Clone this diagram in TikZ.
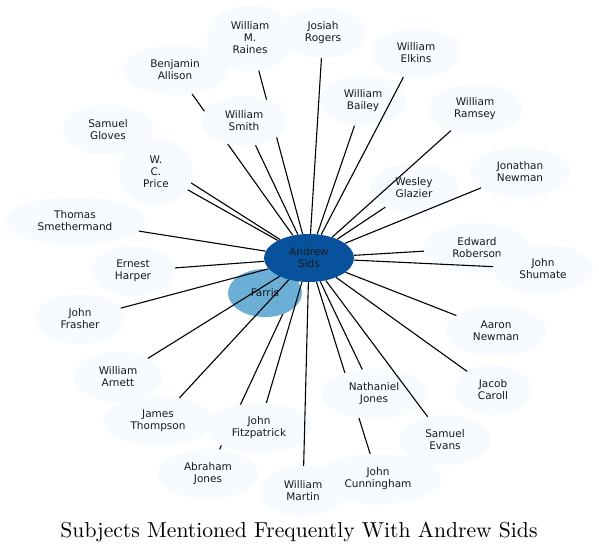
\documentclass[tikz,border=0pt]{standalone}
\usepackage{fontspec}
\newfontfamily\nodefont{DejaVu Sans}
\usetikzlibrary{shapes.geometric}
\definecolor{leaf}{HTML}{F7FBFF}
\definecolor{hub}{HTML}{08519C}
\definecolor{mid}{HTML}{6BAED6}
\tikzset{
  person/.style={ellipse, fill=leaf, inner sep=0pt, align=center,
    font=\nodefont\fontsize{10.5}{12}\selectfont, text=black!90},
  link/.style={draw=black, line width=1.1pt},
}
\newcommand{\pn}[5]{\node[person, minimum width=#3pt, minimum height=#4pt] (#1) at (#2) {#5};}
\begin{document}
\begin{tikzpicture}[x=1pt,y=-1pt]
\useasboundingbox[fill=white] (0,0) rectangle (599,552);
% coordinates of node centres
\coordinate (cgl) at (108,130);
\coordinate (cba) at (175,70);
\coordinate (cra) at (250,38);
\coordinate (ccu) at (378,479);
\coordinate (cab) at (208,474);
\coordinate (csi) at (309,258);
% hidden edges first (under other nodes)
\node[ellipse, minimum width=90pt, minimum height=48pt, inner sep=0pt] (sidsh) at (csi) {};
\node[ellipse, minimum width=90pt, minimum height=50pt, inner sep=0pt] (glh) at (cgl) {};
\node[ellipse, minimum width=104pt, minimum height=50pt, inner sep=0pt] (bah) at (cba) {};
\node[ellipse, minimum width=86pt, minimum height=66pt, inner sep=0pt] (rah) at (cra) {};
\node[ellipse, minimum width=126pt, minimum height=50pt, inner sep=0pt] (cuh) at (ccu) {};
\node[ellipse, minimum width=100pt, minimum height=50pt, inner sep=0pt] (abh) at (cab) {};
\draw[link] (sidsh) -- (glh);
\draw[link] (sidsh) -- (bah);
\draw[link] (sidsh) -- (rah);
\draw[link] (sidsh) -- (cuh);
\draw[link] (sidsh) -- (abh);
% nodes
\pn{gloves}{cgl}{90}{50}{Samuel\\Gloves}
\pn{price}{156,172}{74}{68}{W.\\C.\\Price}
\pn{allison}{cba}{104}{50}{Benjamin\\Allison}
\pn{raines}{cra}{86}{66}{William\\M.\\Raines}
\pn{smith}{244,121}{86}{50}{William\\Smith}
\pn{rogers}{323,33}{86}{50}{Josiah\\Rogers}
\pn{bailey}{363,101}{86}{50}{William\\Bailey}
\pn{elkins}{416,53}{88}{50}{William\\Elkins}
\pn{ramsey}{475,109}{94}{50}{William\\Ramsey}
\pn{glazier}{414,188}{88}{50}{Wesley\\Glazier}
\pn{jnewman}{520,172}{100}{50}{Jonathan\\Newman}
\pn{smeth}{75,221}{140}{48}{Thomas\\Smethermand}
\pn{harper}{133,271}{84}{50}{Ernest\\Harper}
\pn{frasher}{80,319}{90}{50}{John\\Frasher}
\pn{arnett}{118,377}{88}{50}{William\\Arnett}
\pn{roberson}{477,248}{106}{50}{Edward\\Roberson}
\pn{shumate}{543,269}{100}{50}{John\\Shumate}
\pn{anewman}{496,331}{100}{50}{Aaron\\Newman}
\pn{caroll}{493,390}{76}{50}{Jacob\\Caroll}
\pn{njones}{374,394}{106}{50}{Nathaniel\\Jones}
\pn{evans}{445,440}{90}{50}{Samuel\\Evans}
\pn{cunning}{ccu}{126}{50}{John\\Cunningham}
\pn{martin}{303,491}{86}{50}{William\\Martin}
\pn{thompson}{158,421}{110}{50}{James\\Thompson}
\pn{fitz}{259,428}{104}{50}{John\\Fitzpatrick}
\pn{ajones}{cab}{100}{50}{Abraham\\Jones}
\node[person, fill=mid, minimum width=74pt, minimum height=48pt] (farris) at (265,293) {Farris};
\node[person, fill=hub, minimum width=90pt, minimum height=48pt] (sids) at (csi) {Andrew\\Sids};
% visible edges
\foreach \t in {price, smith, rogers, bailey, elkins, ramsey, glazier, jnewman,
  smeth, harper, frasher, arnett, roberson, shumate, anewman, caroll, njones,
  evans, martin, thompson, fitz}
  \draw[link] (sids) -- (\t);
% title
\node[anchor=base, inner sep=0pt] (title) at (299,537)
  {\resizebox{477pt}{!}{\fontsize{10}{12}\selectfont Subjects Mentioned Frequently With Andrew Sids}};
\end{tikzpicture}
\end{document}
